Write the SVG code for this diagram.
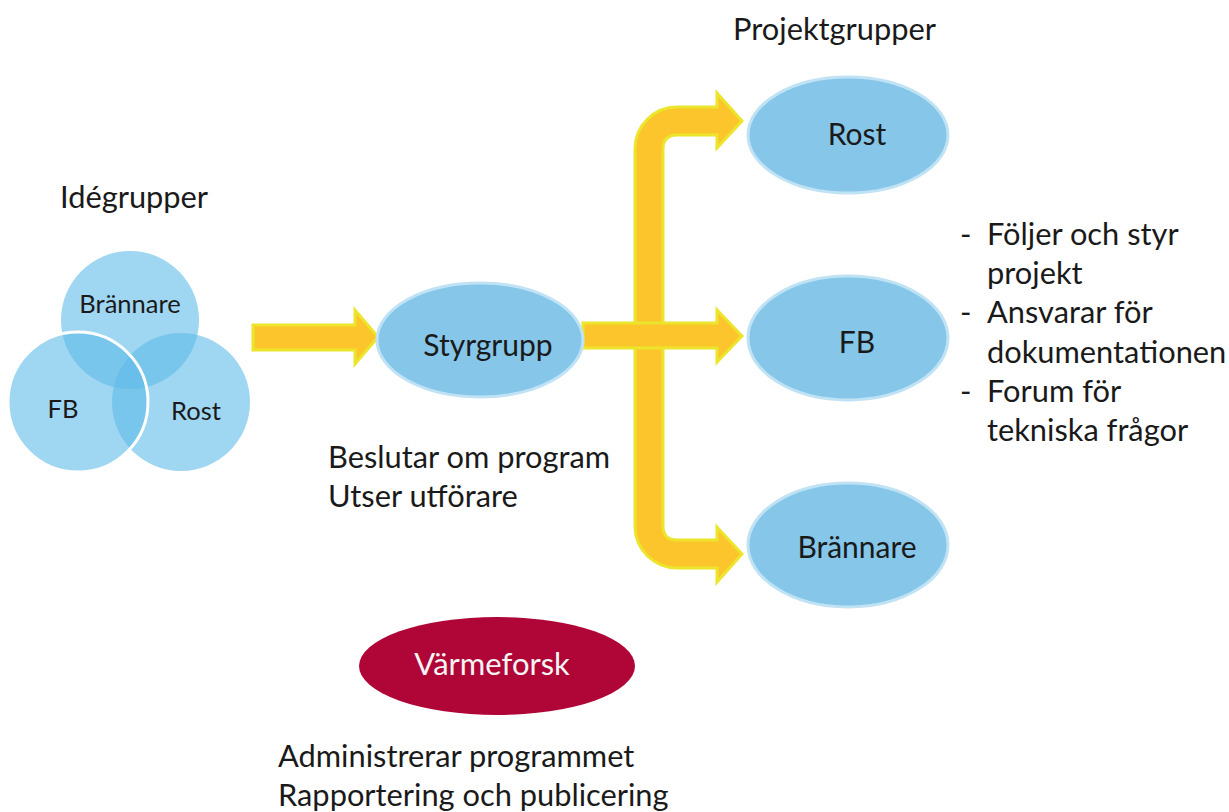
<svg xmlns="http://www.w3.org/2000/svg" width="1229" height="812" viewBox="0 0 1229 812">
<style>
text{font-family:Lato,"Liberation Sans",sans-serif;fill:#1a1a1a}
.big{font-size:30.8px}
.lbl{font-size:30px;text-anchor:middle}
.venn{fill:#5fbbe8;fill-opacity:0.6}
.vt{font-size:25.5px;text-anchor:middle}
.node{fill:#85c6e9;stroke:#bfe2f4;stroke-width:3}
.arrow{fill:#fcc52b;stroke:#ece52c;stroke-width:3;stroke-linejoin:miter}
</style>
<rect width="1229" height="812" fill="#fff"/>
<text class="big" x="733" y="40">Projektgrupper</text>
<text class="big" x="60" y="208">Idégrupper</text>
<g id="idegrupper">
<circle class="venn" cx="130" cy="320" r="69"/>
<circle class="venn" cx="181" cy="402" r="69"/>
<circle class="venn" cx="78" cy="402" r="70" stroke="#fff" stroke-width="3"/>
<text class="vt" x="130" y="313">Brännare</text>
<text class="vt" x="63" y="418">FB</text>
<text class="vt" x="196" y="420">Rost</text>
</g>
<g id="connectors">
<path class="arrow" d="M253,325 L355,325 L355,310 L378,337 L355,364 L355,350 L253,350 Z"/>
<path class="arrow" d="M717,93 L742,121 L717,148 L717,135 L677,135 Q663,135 663,149 L663,526 Q663,540 677,540 L717,540 L717,527 L742,554 L717,582 L717,568 L677,568 A42,42 0 0 1 635,526 L635,149 A42,42 0 0 1 677,107 L717,107 Z"/>
<path class="arrow" d="M583,323 L717,323 L717,310 L742,336 L717,362 L717,348 L583,348 Z"/>
</g>
<g id="styrgrupp">
<ellipse class="node" cx="480" cy="340" rx="103" ry="57"/>
<text class="lbl" x="488" y="356">Styrgrupp</text>
</g>
<text class="big" x="328" y="468">Beslutar om program</text>
<text class="big" x="328" y="507">Utser utförare</text>
<g id="rost">
<ellipse class="node" cx="848" cy="135" rx="100" ry="58"/>
<text class="lbl" x="857" y="145">Rost</text>
</g>
<g id="fb">
<ellipse class="node" cx="848" cy="338" rx="100" ry="62"/>
<text class="lbl" x="857" y="353">FB</text>
</g>
<g id="brannare">
<ellipse class="node" cx="848" cy="545" rx="100" ry="62"/>
<text class="lbl" x="857" y="558">Brännare</text>
</g>
<g id="list">
<text class="big" x="960" y="245">-</text><text class="big" x="987" y="245">Följer och styr</text>
<text class="big" x="987" y="284">projekt</text>
<text class="big" x="960" y="323">-</text><text class="big" x="987" y="323">Ansvarar för</text>
<text class="big" x="987" y="363">dokumentationen</text>
<text class="big" x="960" y="402">-</text><text class="big" x="987" y="402">Forum för</text>
<text class="big" x="987" y="441">tekniska frågor</text>
</g>
<g id="varmeforsk">
<ellipse cx="497" cy="666" rx="138" ry="49" fill="#b00537"/>
<text class="lbl" x="492" y="675" style="fill:#f4f4f4;font-size:31px">Värmeforsk</text>
</g>
<text class="big" x="278" y="767">Administrerar programmet</text>
<text class="big" x="278" y="806">Rapportering och publicering</text>
</svg>
